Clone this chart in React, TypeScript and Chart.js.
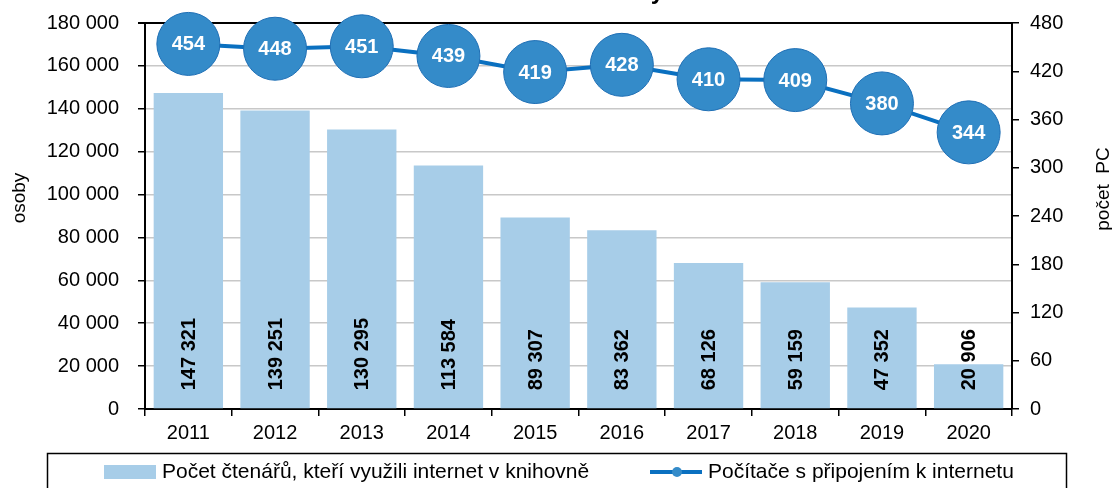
import React, { useEffect, useRef } from "react";
import { Chart, registerables } from "chart.js";

Chart.register(...registerables);

const years = ["2011", "2012", "2013", "2014", "2015", "2016", "2017", "2018", "2019", "2020"];
const readers = [147321, 139251, 130295, 113584, 89307, 83362, 68126, 59159, 47352, 20906];
const computers = [454, 448, 451, 439, 419, 428, 410, 409, 380, 344];
const readersLabel = "Počet čtenářů, kteří využili internet v knihovně";
const computersLabel = "Počítače s připojením k internetu";
const leftTitle = "osoby";
const rightTitle = "počet  PC";
const chartTitle = "Knihovny";
const leftMax = 180000;
const leftStep = 20000;
const rightMax = 480;
const rightStep = 60;

const FONT = '"Liberation Sans", Arial, Helvetica, sans-serif';
const BAR_COLOR = "#a7cde8";
const LINE_COLOR = "#0a70c0";
const POINT_FILL = "#348bc9";
const POINT_BORDER = "#1f6fb5";

const fmt = (v: number) => String(v).replace(/\B(?=(\d{3})+(?!\d))/g, " ");

const decorPlugin = {
  id: "decor",
  afterDatasetsDraw(chart: any) {
    const ctx = chart.ctx;
    const barMeta = chart.getDatasetMeta(1);
    ctx.save();
    ctx.fillStyle = "#000";
    ctx.font = `bold 20px ${FONT}`;
    ctx.textAlign = "left";
    ctx.textBaseline = "middle";
    barMeta.data.forEach((el: any, i: number) => {
      ctx.save();
      ctx.translate(el.x, el.base - 18);
      ctx.rotate(-Math.PI / 2);
      ctx.fillText(fmt(readers[i]), 0, 1);
      ctx.restore();
    });
    ctx.restore();
    const lineMeta = chart.getDatasetMeta(0);
    ctx.save();
    ctx.fillStyle = "#fff";
    ctx.font = `bold 20px ${FONT}`;
    ctx.textAlign = "center";
    ctx.textBaseline = "middle";
    lineMeta.data.forEach((el: any, i: number) => {
      ctx.fillText(String(computers[i]), el.x, el.y + 1);
    });
    ctx.restore();
  },
  afterDraw(chart: any) {
    const ctx = chart.ctx;
    ctx.save();
    ctx.fillStyle = "#000";
    ctx.font = `bold 24px ${FONT}`;
    ctx.textAlign = "right";
    ctx.textBaseline = "alphabetic";
    ctx.fillText(chartTitle, 664, -1);
    ctx.font = `19px ${FONT}`;
    ctx.textAlign = "center";
    ctx.textBaseline = "middle";
    ctx.save();
    ctx.translate(20, 198);
    ctx.rotate(-Math.PI / 2);
    ctx.fillText(leftTitle, 0, 0);
    ctx.restore();
    ctx.save();
    ctx.translate(1104, 189);
    ctx.rotate(-Math.PI / 2);
    ctx.fillText(rightTitle, 0, 0);
    ctx.restore();
    ctx.strokeStyle = "#000";
    ctx.lineWidth = 1.5;
    ctx.strokeRect(47.5, 453.5, 1019, 60);
    ctx.fillStyle = BAR_COLOR;
    ctx.fillRect(104, 465, 52, 14);
    ctx.fillStyle = "#000";
    ctx.font = `21px ${FONT}`;
    ctx.textAlign = "left";
    ctx.textBaseline = "middle";
    ctx.fillText(readersLabel, 162, 472);
    ctx.strokeStyle = LINE_COLOR;
    ctx.lineWidth = 4;
    ctx.beginPath();
    ctx.moveTo(650, 472);
    ctx.lineTo(702, 472);
    ctx.stroke();
    ctx.fillStyle = POINT_FILL;
    ctx.beginPath();
    ctx.arc(677, 472, 5, 0, Math.PI * 2);
    ctx.fill();
    ctx.fillStyle = "#000";
    ctx.fillText(computersLabel, 708, 472);
    ctx.restore();
  },
};

export default function App() {
  const ref = useRef<HTMLCanvasElement | null>(null);
  useEffect(() => {
    if (!ref.current) return;
    const chart = new Chart(ref.current, {
      type: "bar",
      data: {
        labels: years,
        datasets: [
          {
            type: "line",
            label: computersLabel,
            data: computers,
            yAxisID: "y1",
            borderColor: LINE_COLOR,
            borderWidth: 4,
            pointRadius: 31.5,
            pointHoverRadius: 31.5,
            pointBackgroundColor: POINT_FILL,
            pointBorderColor: POINT_BORDER,
            pointBorderWidth: 1,
            clip: false,
            order: 0,
          } as any,
          {
            type: "bar",
            label: readersLabel,
            data: readers,
            yAxisID: "y",
            backgroundColor: BAR_COLOR,
            barPercentage: 0.8,
            categoryPercentage: 1,
            order: 1,
          } as any,
        ],
      },
      options: {
        responsive: false,
        animation: false,
        devicePixelRatio: 1,
        events: [],
        layout: { autoPadding: false, padding: { top: 23, left: 0, right: 0, bottom: 0 } },
        plugins: { legend: { display: false }, tooltip: { enabled: false }, title: { display: false } },
        scales: {
          x: {
            grid: { offset: true, drawOnChartArea: false, tickLength: 7, tickColor: "#000", lineWidth: 1.5 },
            border: { color: "#000", width: 2 },
            ticks: { color: "#000", font: { family: FONT, size: 20 }, padding: 5, maxRotation: 0 },
            afterFit: (s: any) => {
              s.height = 79;
              s.paddingLeft = 0;
              s.paddingRight = 0;
            },
          },
          y: {
            position: "left",
            min: 0,
            max: leftMax,
            ticks: {
              stepSize: leftStep,
              callback: (v: any) => fmt(Number(v)),
              color: "#000",
              font: { family: FONT, size: 20 },
              padding: 19,
            },
            grid: {
              color: (c: any) => (c.tick && c.tick.value === leftMax ? "#000" : "#c8c8c8"),
              lineWidth: (c: any) => (c.tick && c.tick.value === leftMax ? 2 : 1.5),
              tickColor: "#000",
              tickLength: 7,
            },
            border: { color: "#000", width: 2 },
            afterFit: (s: any) => {
              s.width = 145;
              s.paddingTop = 0;
              s.paddingBottom = 0;
            },
          },
          y1: {
            position: "right",
            min: 0,
            max: rightMax,
            ticks: { stepSize: rightStep, color: "#000", font: { family: FONT, size: 20 }, padding: 11 },
            grid: { drawOnChartArea: false, tickColor: "#000", tickLength: 7, lineWidth: 1.5 },
            border: { color: "#000", width: 2 },
            afterFit: (s: any) => {
              s.width = 100;
              s.paddingTop = 0;
              s.paddingBottom = 0;
            },
          },
        },
      } as any,
      plugins: [decorPlugin],
    });
    return () => chart.destroy();
  }, []);
  return (
    <div style={{ position: "absolute", left: 0, top: 0, width: 1112, height: 488, background: "#fff" }}>
      <canvas ref={ref} width={1112} height={488} style={{ display: "block", width: 1112, height: 488 }} />
    </div>
  );
}
